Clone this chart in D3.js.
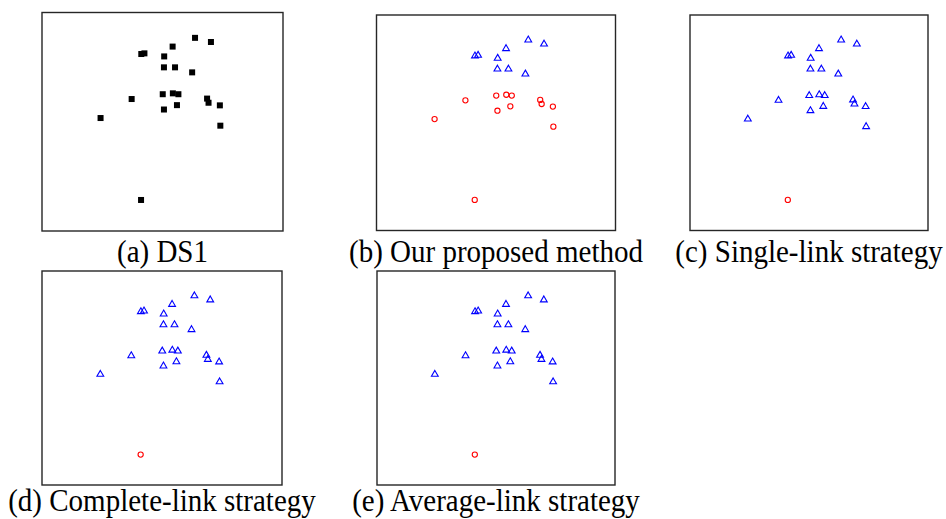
<!DOCTYPE html>
<html>
<head>
<meta charset="utf-8">
<script src="https://cdn.jsdelivr.net/npm/d3@7"></script>
<style>
  html, body { margin: 0; padding: 0; background: #fff; }
  svg { display: block; }
  .caption { font-family: "Liberation Serif", "Times New Roman", serif; font-size: 29px; fill: #000; }
</style>
</head>
<body>
<div id="chart"></div>
<script>
// DS1 points (normalised units, y pointing up)
const pointX = [0.635, 0.701, 0.542, 0.412, 0.425, 0.507, 0.506, 0.552, 0.623,
  0.372, 0.501, 0.543, 0.566, 0.685, 0.691, 0.738, 0.506, 0.560, 0.243, 0.740, 0.411];
const pointY = [0.884, 0.865, 0.844, 0.810, 0.813, 0.799, 0.749, 0.749, 0.726,
  0.604, 0.626, 0.630, 0.626, 0.606, 0.587, 0.575, 0.556, 0.576, 0.517, 0.482, 0.142];

// cluster labels per method (0 = triangle, 1 = circle, null = raw data)
const labelsProposed = [0, 0, 0, 0, 0, 0, 0, 0, 0, 1, 1, 1, 1, 1, 1, 1, 1, 1, 1, 1, 1];
const labelsSingle   = [0, 0, 0, 0, 0, 0, 0, 0, 0, 0, 0, 0, 0, 0, 0, 0, 0, 0, 0, 0, 1];
const labelsComplete = [0, 0, 0, 0, 0, 0, 0, 0, 0, 0, 0, 0, 0, 0, 0, 0, 0, 0, 0, 0, 1];
const labelsAverage  = [0, 0, 0, 0, 0, 0, 0, 0, 0, 0, 0, 0, 0, 0, 0, 0, 0, 0, 0, 0, 1];

const captions = ['(a) DS1', '(b) Our proposed method', '(c) Single-link strategy',
  '(d) Complete-link strategy', '(e) Average-link strategy'];

/* ---------------- LAYOUT ---------------- */
const W = 946, H = 519;
const boxes = [
  { x0: 42, y0: 12.5, x1: 283, y1: 231, capY: 262 },
  { x0: 376.5, y0: 15, x1: 615.5, y1: 230.5, capY: 262 },
  { x0: 690, y0: 15, x1: 928, y1: 230.5, capY: 262 },
  { x0: 42, y0: 271, x1: 282, y1: 485, capY: 511 },
  { x0: 377, y0: 271, x1: 615, y1: 485, capY: 511 },
];
const labelSets = [null, labelsProposed, labelsSingle, labelsComplete, labelsAverage];

const svg = d3.select('#chart').append('svg')
  .attr('width', W)
  .attr('height', H);

const points = pointX.map((x, i) => ({ x, y: pointY[i] }));
const triangle = d3.symbol().type(d3.symbolTriangle).size(20);

boxes.forEach((b, k) => {
  const xScale = d3.scaleLinear().domain([0, 1]).range([b.x0, b.x1]);
  const yScale = d3.scaleLinear().domain([0, 1]).range([b.y1, b.y0]);
  const g = svg.append('g');

  g.append('rect')
    .attr('x', b.x0)
    .attr('y', b.y0)
    .attr('width', b.x1 - b.x0)
    .attr('height', b.y1 - b.y0)
    .attr('fill', 'none')
    .attr('stroke', '#262626')
    .attr('stroke-width', 1.4);

  const labels = labelSets[k];
  const data = points.map((p, i) => ({ ...p, c: labels ? labels[i] : null }));

  if (!labels) {
    g.selectAll('.sq')
      .data(data)
      .enter()
      .append('rect')
      .attr('class', 'sq')
      .attr('x', (d) => xScale(d.x) - 3)
      .attr('y', (d) => yScale(d.y) - 3)
      .attr('width', 6)
      .attr('height', 6)
      .attr('fill', '#000');
  } else {
    g.selectAll('.tri')
      .data(data.filter((d) => d.c === 0))
      .enter()
      .append('path')
      .attr('class', 'tri')
      .attr('d', triangle)
      .attr('transform', (d) => `translate(${xScale(d.x)},${yScale(d.y)})`)
      .attr('fill', 'none')
      .attr('stroke', '#0000ff')
      .attr('stroke-width', 1.1);

    g.selectAll('.circ')
      .data(data.filter((d) => d.c === 1))
      .enter()
      .append('circle')
      .attr('class', 'circ')
      .attr('cx', (d) => xScale(d.x))
      .attr('cy', (d) => yScale(d.y))
      .attr('r', 2.6)
      .attr('fill', 'none')
      .attr('stroke', '#ff0000')
      .attr('stroke-width', 1.1);
  }

  // captions look slightly stretched vertically in the source
  g.append('text')
    .attr('class', 'caption')
    .attr('transform', `translate(${(b.x0 + b.x1) / 2},${b.capY}) scale(1,1.06)`)
    .attr('text-anchor', 'middle')
    .text(captions[k]);
});
</script>
</body>
</html>
